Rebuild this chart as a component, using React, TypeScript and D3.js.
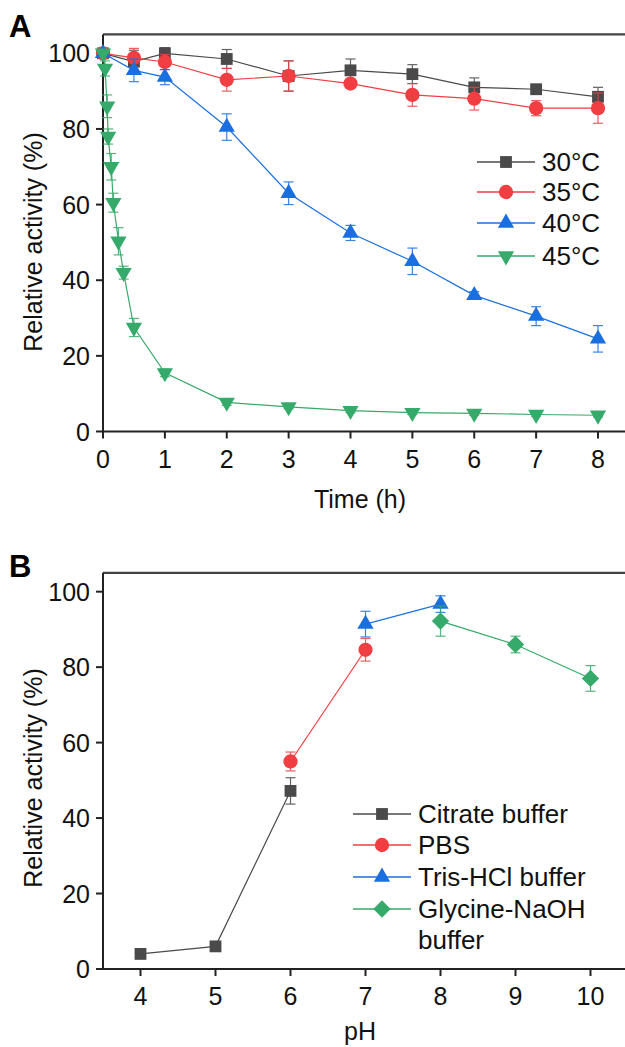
import React from 'react';
import * as d3 from 'd3';

// Panel A: thermal stability
const timesA = [0, 0.5, 1, 2, 3, 4, 5, 6, 7, 8];
const act30 = [100, 97.8, 100, 98.5, 94, 95.5, 94.5, 91, 90.5, 88.5];
const err30 = [0, 3, 1.5, 2.5, 4, 3, 2.5, 2.5, 1, 2.5];
const act35 = [100, 98.8, 97.7, 93, 94, 92, 89, 88, 85.5, 85.5];
const err35 = [0, 2.5, 2, 3, 4, 1, 3, 3, 2, 4];
const act40 = [100, 95.5, 93.7, 80.5, 63, 52.5, 45, 36, 30.5, 24.5];
const err40 = [0, 3, 2, 3.5, 3, 2, 3.5, 1, 2.5, 3.5];
const times45 = [0, 0.033, 0.067, 0.083, 0.133, 0.167, 0.25, 0.333, 0.5, 1, 2, 3, 4, 5, 6, 7, 8];
const act45 = [100, 96, 86, 78, 70, 60.5, 50.3, 42, 27.5, 15.5, 7.7, 6.5, 5.5, 5, 4.8, 4.5, 4.3];
const err45 = [0, 2, 3, 2, 3.5, 2.5, 3.6, 1.7, 2.4, 1, 0.8, 0.5, 0.5, 0.5, 0.5, 0.5, 0.5];
const ticksA = [0, 1, 2, 3, 4, 5, 6, 7, 8];

// Panel B: pH stability
const phCitrate = [4, 5, 6];
const actCitrate = [4, 6, 47.2];
const errCitrate = [0.5, 0.5, 3.5];
const phPBS = [6, 7];
const actPBS = [55, 84.6];
const errPBS = [2.5, 3];
const phTris = [7, 8];
const actTris = [91.4, 96.7];
const errTris = [3.4, 2.2];
const phGly = [8, 9, 10];
const actGly = [92.2, 86, 77];
const errGly = [4, 2.2, 3.4];
const ticksB = [4, 5, 6, 7, 8, 9, 10];
const yTicks = [0, 20, 40, 60, 80, 100];

const GRAY = '#4a4a4a';
const RED = '#f03e42';
const BLUE = '#1a6fe0';
const GREEN = '#36aa6a';
const FONT = '"Liberation Sans", Arial, sans-serif';

type Kind = 'square' | 'circle' | 'up' | 'down' | 'diamond';

const symbolPath = (kind: Kind) => {
  if (kind === 'square') return d3.symbol().type(d3.symbolSquare).size(140)()!;
  if (kind === 'circle') return d3.symbol().type(d3.symbolCircle).size(160)()!;
  if (kind === 'diamond') return d3.symbol().type(d3.symbolSquare).size(150)()!;
  return d3.symbol().type(d3.symbolTriangle).size(115)()!;
};

const Marker = ({ kind, x, y, color }: { kind: Kind; x: number; y: number; color: string }) => {
  let rot = 0;
  if (kind === 'down') rot = 180;
  if (kind === 'diamond') rot = 45;
  return <path d={symbolPath(kind)} transform={`translate(${x},${y}) rotate(${rot})`} fill={color} />;
};

type Series = { xs: number[]; ys: number[]; es: number[]; color: string; kind: Kind };

const SeriesPlot = ({ s, x, y }: { s: Series; x: d3.ScaleLinear<number, number>; y: d3.ScaleLinear<number, number> }) => {
  const pts = s.xs.map((v, i) => [x(v), y(s.ys[i])] as [number, number]);
  const line = d3.line()(pts)!;
  return (
    <g>
      <path d={line} fill="none" stroke={s.color} strokeWidth={1.2} />
      {s.xs.map((v, i) => {
        const cx = x(v);
        const top = y(s.ys[i] + s.es[i]);
        const bot = y(s.ys[i] - s.es[i]);
        if (s.es[i] <= 0) return null;
        return (
          <g key={'e' + i} stroke={s.color} strokeWidth={1.2} opacity={0.85}>
            <line x1={cx} x2={cx} y1={top} y2={bot} />
            <line x1={cx - 5} x2={cx + 5} y1={top} y2={top} />
            <line x1={cx - 5} x2={cx + 5} y1={bot} y2={bot} />
          </g>
        );
      })}
      {pts.map((p, i) => (
        <Marker key={'m' + i} kind={s.kind} x={p[0]} y={p[1]} color={s.color} />
      ))}
    </g>
  );
};

const Axes = ({
  x, y, xTicks, xTitle, titleY, yTitleY, x0, y0, yTop,
}: {
  x: d3.ScaleLinear<number, number>; y: d3.ScaleLinear<number, number>; xTicks: number[];
  xTitle: string; titleY: number; yTitleY: number; x0: number; y0: number; yTop: number;
}) => (
  <g fontFamily={FONT} fill="#111">
    <line x1={x0} x2={625} y1={yTop} y2={yTop} stroke="#444" strokeWidth={2.2} />
    <line x1={x0} x2={x0} y1={yTop} y2={y0} stroke="#222" strokeWidth={2} />
    <line x1={x0 - 1} x2={625} y1={y0} y2={y0} stroke="#222" strokeWidth={2} />
    {yTicks.map((t) => (
      <g key={'y' + t}>
        <line x1={x0 - 7} x2={x0} y1={y(t)} y2={y(t)} stroke="#222" strokeWidth={2} />
        <text x={x0 - 13} y={y(t)} dy="0.36em" textAnchor="end" fontSize={25}>{t}</text>
      </g>
    ))}
    {xTicks.map((t) => (
      <g key={'x' + t}>
        <line x1={x(t)} x2={x(t)} y1={y0} y2={y0 + 7} stroke="#222" strokeWidth={2} />
        <text x={x(t)} y={y0 + 36} textAnchor="middle" fontSize={25}>{t}</text>
      </g>
    ))}
    <text x={360} y={titleY} textAnchor="middle" fontSize={25}>{xTitle}</text>
    <text transform={`translate(42,${yTitleY}) rotate(-90)`} textAnchor="middle" fontSize={25}>
      Relative activity (%)
    </text>
  </g>
);

const LegendRow = ({ x, y, color, kind, label }: { x: number; y: number; color: string; kind: Kind; label: string }) => (
  <g>
    <line x1={x} x2={x + 58} y1={y} y2={y} stroke={color} strokeWidth={1.4} />
    <Marker kind={kind} x={x + 29} y={y} color={color} />
    <text x={x + 65} y={y} dy="0.36em" fontSize={26} fontFamily={FONT} fill="#111">{label}</text>
  </g>
);

export default function App() {
  const xA = d3.scaleLinear().domain([0, 8]).range([103, 598]);
  const yA = d3.scaleLinear().domain([0, 105]).range([431.5, 34.4]);
  const xB = d3.scaleLinear().domain([3.5, 10.5]).range([103, 628]);
  const yB = d3.scaleLinear().domain([0, 105]).range([969, 572.8]);

  const seriesA: Series[] = [
    { xs: timesA, ys: act30, es: err30, color: GRAY, kind: 'square' },
    { xs: timesA, ys: act35, es: err35, color: RED, kind: 'circle' },
    { xs: timesA, ys: act40, es: err40, color: BLUE, kind: 'up' },
    { xs: times45, ys: act45, es: err45, color: GREEN, kind: 'down' },
  ];
  const seriesB: Series[] = [
    { xs: phCitrate, ys: actCitrate, es: errCitrate, color: GRAY, kind: 'square' },
    { xs: phPBS, ys: actPBS, es: errPBS, color: RED, kind: 'circle' },
    { xs: phTris, ys: actTris, es: errTris, color: BLUE, kind: 'up' },
    { xs: phGly, ys: actGly, es: errGly, color: GREEN, kind: 'diamond' },
  ];

  return (
    <svg width={625} height={1047} style={{ position: 'absolute', left: 0, top: 0, background: '#fff' }}>
      <text x={9} y={37} fontSize={31} fontWeight="bold" fontFamily={FONT}>A</text>
      <Axes x={xA} y={yA} xTicks={ticksA} xTitle="Time (h)" titleY={508} yTitleY={242} x0={103} y0={431.5} yTop={34.4} />
      {seriesA.map((s, i) => <SeriesPlot key={i} s={s} x={xA} y={yA} />)}
      <LegendRow x={477} y={162} color={GRAY} kind="square" label="30°C" />
      <LegendRow x={477} y={192} color={RED} kind="circle" label="35°C" />
      <LegendRow x={477} y={223} color={BLUE} kind="up" label="40°C" />
      <LegendRow x={477} y={256} color={GREEN} kind="down" label="45°C" />

      <text x={9} y={577} fontSize={31} fontWeight="bold" fontFamily={FONT}>B</text>
      <Axes x={xB} y={yB} xTicks={ticksB} xTitle="pH" titleY={1040} yTitleY={778} x0={103} y0={969} yTop={572.8} />
      {seriesB.map((s, i) => <SeriesPlot key={i} s={s} x={xB} y={yB} />)}
      <LegendRow x={353} y={814} color={GRAY} kind="square" label="Citrate buffer" />
      <LegendRow x={353} y={845} color={RED} kind="circle" label="PBS" />
      <LegendRow x={353} y={877} color={BLUE} kind="up" label="Tris-HCl buffer" />
      <LegendRow x={353} y={909} color={GREEN} kind="diamond" label="Glycine-NaOH" />
      <text x={418} y={940} dy="0.36em" fontSize={26} fontFamily={FONT} fill="#111">buffer</text>
    </svg>
  );
}
